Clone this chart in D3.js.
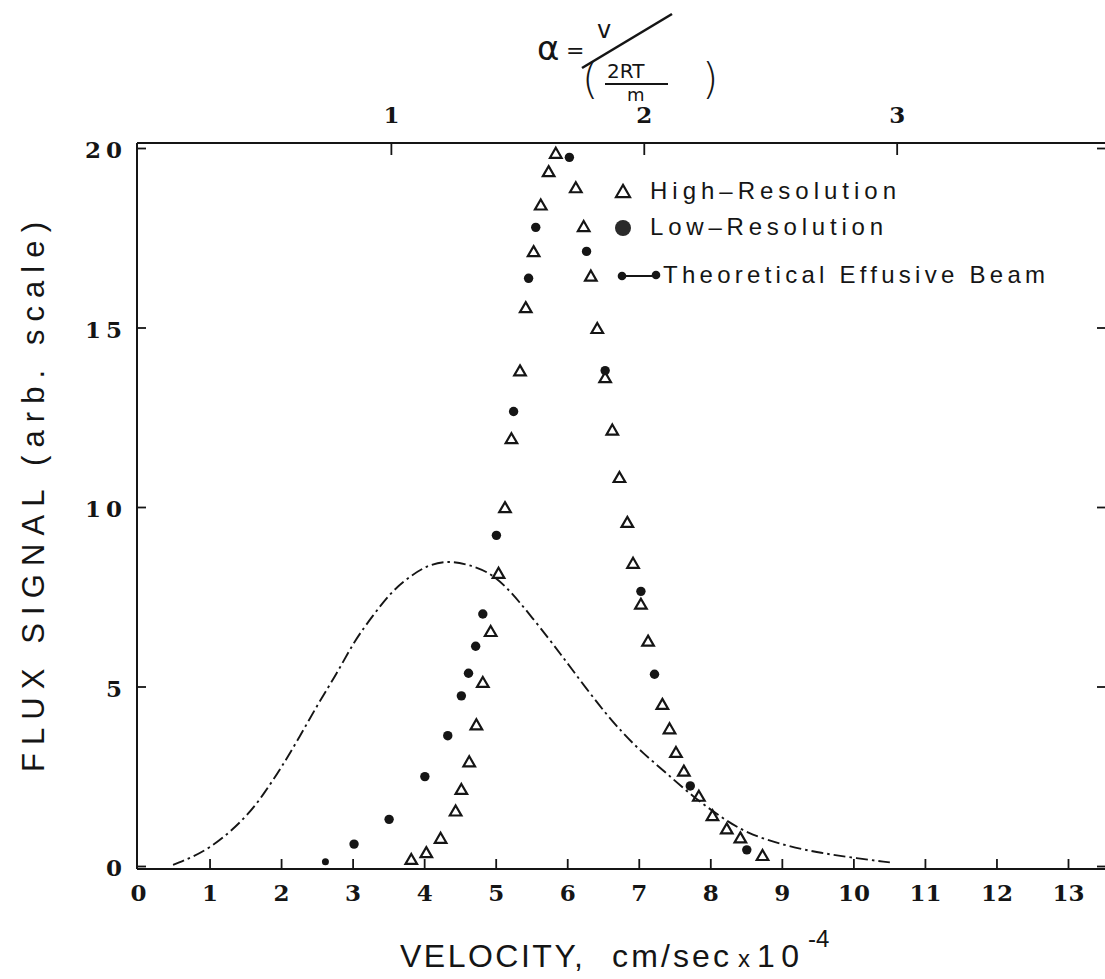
<!DOCTYPE html>
<html>
<head>
<meta charset="utf-8">
<script src="https://cdn.jsdelivr.net/npm/d3@7"></script>
<style>
  body { margin: 0; background: #fff; }
  svg { display: block; }
  .tick text { font-family: "DejaVu Serif", "Liberation Serif", serif; font-weight: bold; fill: #151515; }
</style>
</head>
<body>
<svg id="chart" width="1105" height="979"></svg>
<script>
// High-resolution measurements (open triangles): velocity (10^4 cm/s), flux
const highResV = [3.82, 4.03, 4.23, 4.44, 4.52, 4.63, 4.73, 4.82, 4.93, 5.04, 5.13, 5.22, 5.34, 5.42,
                  5.53, 5.63, 5.74, 5.84, 6.12, 6.23, 6.33, 6.42, 6.53, 6.63, 6.73, 6.84, 6.92, 7.03,
                  7.13, 7.33, 7.43, 7.52, 7.63, 7.84, 8.03, 8.23, 8.42, 8.73];
const highResF = [0.15, 0.34, 0.74, 1.50, 2.10, 2.87, 3.90, 5.08, 6.50, 8.12, 9.95, 11.87, 13.76, 15.52,
                  17.08, 18.38, 19.31, 19.82, 18.86, 17.78, 16.40, 14.94, 13.57, 12.11, 10.79, 9.54, 8.40, 7.26,
                  6.23, 4.47, 3.79, 3.13, 2.61, 1.91, 1.37, 1.00, 0.75, 0.26];

// Low-resolution measurements (filled circles)
const lowResV = [2.62, 3.02, 3.51, 4.01, 4.33, 4.52, 4.62, 4.72, 4.82, 5.01, 5.25, 5.46, 5.56,
                 6.03, 6.27, 6.53, 7.03, 7.22, 7.72, 8.51];
const lowResF = [0.12, 0.61, 1.30, 2.49, 3.63, 4.74, 5.37, 6.12, 7.02, 9.21, 12.66, 16.37, 17.79,
                 19.74, 17.12, 13.80, 7.65, 5.34, 2.23, 0.45];

// Theoretical effusive beam (dash-dot curve)
const theoryV = [0.49, 1.01, 1.52, 1.75, 2.01, 2.26, 2.52, 2.78, 3.03, 3.29, 3.52, 3.76, 4.04, 4.32,
                 4.59, 4.97, 5.32, 5.76, 6.04, 6.46, 6.78, 7.06, 7.39, 7.76, 8.14, 8.51, 9.02, 9.49,
                 9.95, 10.51];
const theoryF = [0.03, 0.45, 1.37, 1.98, 2.76, 3.60, 4.53, 5.36, 6.29, 6.99, 7.59, 8.01, 8.38, 8.50,
                 8.42, 8.15, 7.40, 6.29, 5.55, 4.43, 3.69, 3.14, 2.58, 1.93, 1.37, 0.91, 0.58, 0.38,
                 0.24, 0.10];

// Tick values
const xTicks = [0, 1, 2, 3, 4, 5, 6, 7, 8, 9, 10, 11, 12, 13];
const yTicks = [0, 5, 10, 15, 20];
const alphaTicks = [1, 2, 3];
const alphaUnit = 3.535; // velocity at which alpha = 1

const legendLabels = ["High\u2013Resolution", "Low\u2013Resolution", "Theoretical  Effusive  Beam"];

const ink = "#151515";
const svg = d3.select("#chart");

const x = d3.scaleLinear().domain([0, 13]).range([138, 1068]);
const y = d3.scaleLinear().domain([0, 20]).range([866, 148]);
const a = d3.scaleLinear().domain([0, 3]).range([x(0), x(3 * alphaUnit)]);

const frameL = 137, frameR = 1105, frameT = 143, frameB = 869;

// Frame lines (left, top, bottom)
const frame = svg.append("g").attr("stroke", ink).attr("stroke-width", 2).attr("fill", "none");
frame.append("line").attr("x1", frameL).attr("x2", frameL).attr("y1", frameT).attr("y2", frameB);
frame.append("line").attr("x1", frameL).attr("x2", frameR).attr("y1", frameT).attr("y2", frameT);
frame.append("line").attr("x1", frameL).attr("x2", frameR).attr("y1", frameB).attr("y2", frameB);

function styleAxis(g, size, spacing) {
  g.select(".domain").remove();
  g.selectAll(".tick line").attr("stroke", ink).attr("stroke-width", 1.8);
  g.selectAll(".tick text").attr("font-size", size).attr("letter-spacing", spacing).attr("fill", ink);
}

// Bottom velocity axis
svg.append("g")
  .attr("transform", `translate(0,${frameB})`)
  .call(d3.axisBottom(x).tickValues(xTicks).tickFormat(d3.format("d"))
    .tickSizeInner(-10).tickSizeOuter(0).tickPadding(16))
  .call(g => styleAxis(g, 23, 0))
  .call(g => g.selectAll(".tick").filter(d => d === 0).select("line").remove());

// Left flux axis
svg.append("g")
  .attr("transform", `translate(${frameL},0)`)
  .call(d3.axisLeft(y).tickValues(yTicks).tickFormat(d3.format("d"))
    .tickSizeInner(-9).tickSizeOuter(0).tickPadding(10))
  .call(g => styleAxis(g, 23, 5))
  .call(g => g.selectAll(".tick text").attr("dy", "0.42em"));

// Right side ticks
svg.append("g")
  .attr("transform", `translate(${frameR},0)`)
  .call(d3.axisRight(y).tickValues(yTicks).tickSizeInner(-8).tickSizeOuter(0).tickFormat(""))
  .call(g => styleAxis(g, 0, 0));

// Top reduced-velocity axis
svg.append("g")
  .attr("transform", `translate(0,${frameT})`)
  .call(d3.axisTop(a).tickValues(alphaTicks).tickFormat(d3.format("d"))
    .tickSizeInner(-12).tickSizeOuter(0).tickPadding(20))
  .call(g => styleAxis(g, 23, 0));

// Theoretical curve
const theory = theoryV.map((v, i) => [v, theoryF[i]]);
svg.append("path")
  .datum(theory)
  .attr("fill", "none")
  .attr("stroke", ink)
  .attr("stroke-width", 1.9)
  .attr("stroke-dasharray", "12,4,2.5,4")
  .attr("d", d3.line().x(d => x(d[0])).y(d => y(d[1])).curve(d3.curveBasis));

// Triangle and circle markers
const tri = d3.symbol().type(d3.symbolTriangle).size(58);
const tri2 = d3.symbol().type(d3.symbolTriangle).size(85);

svg.append("g")
  .selectAll("path")
  .data(highResV.map((v, i) => [v, highResF[i]]))
  .join("path")
  .attr("transform", d => `translate(${x(d[0])},${y(d[1])})`)
  .attr("d", tri)
  .attr("fill", "none")
  .attr("stroke", ink)
  .attr("stroke-width", 2.2);

svg.append("g")
  .selectAll("circle")
  .data(lowResV.map((v, i) => [v, lowResF[i]]))
  .join("circle")
  .attr("cx", d => x(d[0]))
  .attr("cy", d => y(d[1]))
  .attr("r", (d, i) => i === 0 ? 3.5 : 4.7)
  .attr("fill", ink);

// Legend
const lg = svg.append("g");
lg.append("path").attr("transform", "translate(623,193)").attr("d", tri2)
  .attr("fill", "none").attr("stroke", ink).attr("stroke-width", 2.2);
lg.append("circle").attr("cx", 623).attr("cy", 228).attr("r", 8).attr("fill", "#2a2a2a");
lg.append("circle").attr("cx", 622).attr("cy", 276).attr("r", 4.3).attr("fill", ink);
lg.append("line").attr("x1", 626).attr("x2", 652).attr("y1", 276).attr("y2", 276)
  .attr("stroke", ink).attr("stroke-width", 2);
lg.append("circle").attr("cx", 656).attr("cy", 275).attr("r", 4.3).attr("fill", ink);

const legendX = [650, 650, 663];
const legendY = [199, 235, 283];
const legendW = [246, 233, 382];
lg.selectAll("text")
  .data(legendLabels)
  .join("text")
  .attr("x", (d, i) => legendX[i])
  .attr("y", (d, i) => legendY[i])
  .attr("textLength", (d, i) => legendW[i])
  .attr("lengthAdjust", "spacing")
  .attr("font-family", "'Liberation Sans', Arial, sans-serif")
  .attr("font-size", 24)
  .attr("fill", ink)
  .text(d => d);

// Axis titles
svg.append("text")
  .attr("transform", "translate(44,497) rotate(-90)")
  .attr("text-anchor", "middle")
  .attr("font-family", "'Liberation Sans', Arial, sans-serif")
  .attr("font-size", 31)
  .attr("textLength", 550)
  .attr("lengthAdjust", "spacing")
  .attr("fill", ink)
  .text("FLUX SIGNAL (arb. scale)");

const xt = svg.append("g")
  .attr("font-family", "'Liberation Sans', Arial, sans-serif")
  .attr("fill", ink);
xt.append("text").attr("x", 400).attr("y", 967).attr("font-size", 32)
  .attr("textLength", 183).attr("lengthAdjust", "spacing").text("VELOCITY,");
xt.append("text").attr("x", 612).attr("y", 967).attr("font-size", 32)
  .attr("textLength", 117).attr("lengthAdjust", "spacing").text("cm/sec");
xt.append("text").attr("x", 738).attr("y", 967).attr("font-size", 24).text("x");
xt.append("text").attr("x", 757).attr("y", 967).attr("font-size", 32)
  .attr("textLength", 42).attr("lengthAdjust", "spacing").text("10");
xt.append("text").attr("x", 808).attr("y", 947).attr("font-size", 24).text("-4");

// Reduced velocity definition
const fm = svg.append("g")
  .attr("font-family", "'DejaVu Sans', sans-serif")
  .attr("fill", ink);
fm.append("text").attr("x", 537).attr("y", 60).attr("font-size", 34).text("\u03b1");
fm.append("text").attr("x", 566).attr("y", 58).attr("font-size", 22).text("=");
fm.append("text").attr("x", 597).attr("y", 38).attr("font-size", 24).text("v");
fm.append("line").attr("x1", 582).attr("y1", 68).attr("x2", 672).attr("y2", 14)
  .attr("stroke", ink).attr("stroke-width", 2.6);
fm.append("text").attr("x", 582).attr("y", 94).attr("font-size", 42).attr("font-weight", 300).text("(");
fm.append("text").attr("x", 607).attr("y", 78).attr("font-size", 20).text("2RT");
fm.append("line").attr("x1", 605).attr("y1", 84).attr("x2", 668).attr("y2", 84)
  .attr("stroke", ink).attr("stroke-width", 2);
fm.append("text").attr("x", 627).attr("y", 101).attr("font-size", 18).text("m");
fm.append("text").attr("x", 702).attr("y", 94).attr("font-size", 42).attr("font-weight", 300).text(")");
</script>
</body>
</html>
